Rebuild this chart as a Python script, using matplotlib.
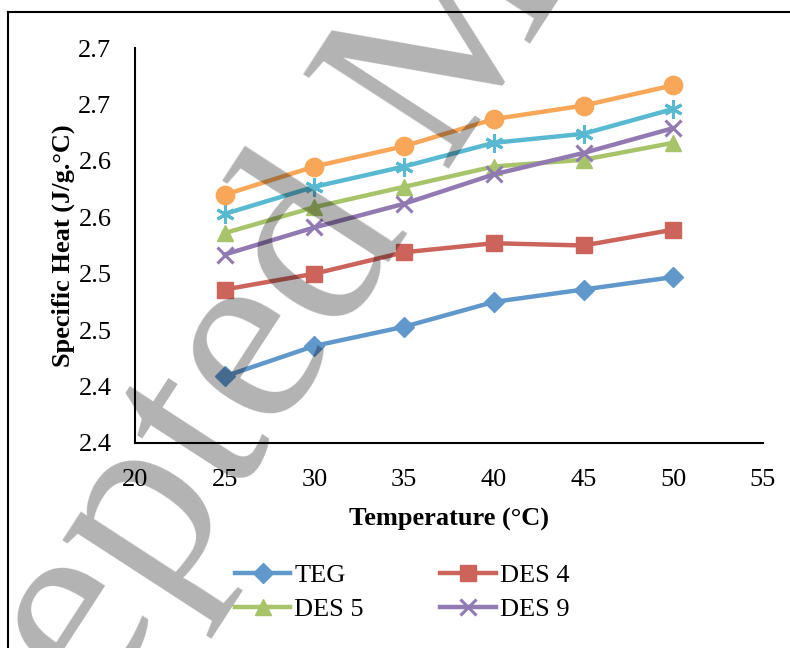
import matplotlib
matplotlib.use("Agg")
import matplotlib.pyplot as plt
from matplotlib.lines import Line2D

temperature = [25, 30, 35, 40, 45, 50]
teg = [2.459, 2.486, 2.503, 2.525, 2.536, 2.547]
des4 = [2.536, 2.550, 2.569, 2.577, 2.575, 2.589]
des5 = [2.586, 2.609, 2.627, 2.645, 2.651, 2.666]
des9 = [2.567, 2.591, 2.612, 2.638, 2.657, 2.679]
des_cyan = [2.603, 2.627, 2.645, 2.666, 2.674, 2.696]
des_orange = [2.620, 2.645, 2.663, 2.687, 2.699, 2.717]

x_ticks = [20, 25, 30, 35, 40, 45, 50, 55]
y_ticks = [2.40, 2.45, 2.50, 2.55, 2.60, 2.65, 2.70, 2.75]
y_tick_labels = ["2.4", "2.4", "2.5", "2.5", "2.6", "2.6", "2.7", "2.7"]

plt.rcParams["font.family"] = ["Liberation Serif", "DejaVu Serif"]

fig = plt.figure(figsize=(7.9, 6.48), dpi=100)
ax = fig.add_axes([0.1709, 0.3164, 0.7949, 0.6095])

lw = 3.2
ms = 12
teg_line, = ax.plot(temperature, teg, color="#6198cc", lw=lw, marker="D", ms=ms * 0.85, label="TEG")
des4_line, = ax.plot(temperature, des4, color="#cd645c", lw=lw, marker="s", ms=ms, label="DES 4")
des5_line, = ax.plot(temperature, des5, color="#a8c46b", lw=lw, marker="^", ms=ms, label="DES 5")
des9_line, = ax.plot(temperature, des9, color="#9179b1", lw=lw, marker="x", ms=ms, mew=2.2, label="DES 9")
ax.plot(temperature, des_cyan, color="#58b9d0", lw=lw, marker=(6, 2, 0), ms=ms * 1.1, mew=2.2)
ax.plot(temperature, des_orange, color="#f8a657", lw=lw, marker="o", ms=ms * 1.1)

ax.set_xlim(20, 55)
ax.set_ylim(2.40, 2.75)
ax.set_xticks(x_ticks)
ax.set_yticks(y_ticks)
ax.set_yticklabels(y_tick_labels)
ax.tick_params(length=0, labelsize=19)
ax.tick_params(axis="x", pad=19)
ax.tick_params(axis="y", pad=17)
for side in ["top", "right"]:
    ax.spines[side].set_visible(False)
for side in ["left", "bottom"]:
    ax.spines[side].set_linewidth(1.5)

ax.set_xlabel("Temperature (°C)", fontsize=19, fontweight="bold", labelpad=12)
ax.set_ylabel("Specific Heat (J/g.°C)", fontsize=19, fontweight="bold", labelpad=2)

fig.legend(handles=[teg_line, des5_line, des4_line, des9_line], ncol=2,
           loc="upper left", bbox_to_anchor=(0.284, 0.147), frameon=False,
           fontsize=19, handlelength=2.1, handletextpad=0.15,
           columnspacing=2.9, labelspacing=0.4, borderaxespad=0)

# chart area border (top and left visible)
fig.add_artist(Line2D([8 / 790, 1], [1 - 12 / 648, 1 - 12 / 648], color="black", lw=1.5))
fig.add_artist(Line2D([8 / 790, 8 / 790], [0, 1 - 12 / 648], color="black", lw=1.5))

# watermark
fig.text(0.545, 0.875, "Accepted Manuscript", fontsize=190, rotation=57,
         ha="center", va="center", rotation_mode="anchor",
         color="black", alpha=0.3, zorder=10)

fig.savefig("out.png", dpi=100)
